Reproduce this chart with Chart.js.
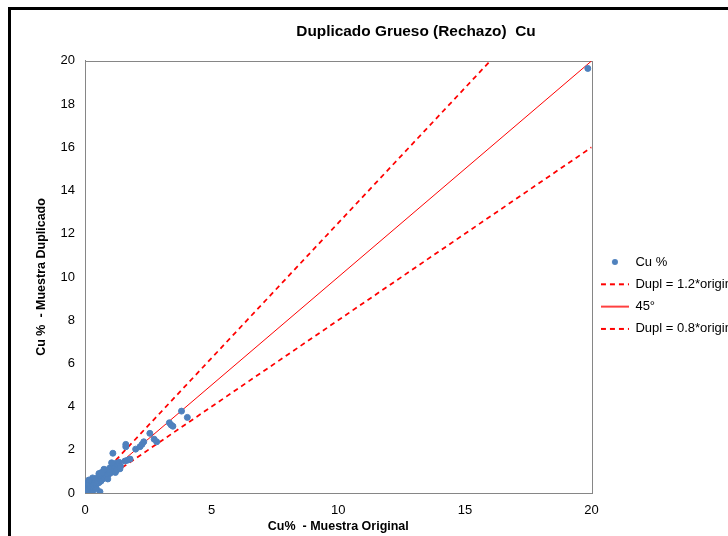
<!DOCTYPE html>
<html>
<head>
<meta charset="utf-8">
<script src="https://cdn.jsdelivr.net/npm/chart.js@4"></script>
<style>
  body { margin: 0; overflow: hidden; background: #fff; }
  #frame { position: absolute; left: 8px; top: 7px; border-left: 3px solid #000; border-top: 3px solid #000; width: 810px; height: 545px; }
</style>
</head>
<body>
<div id="frame"><canvas id="myChart" width="810" height="545"></canvas></div>
<script>
// Cu % muestra original (x) y duplicado (y)
const cuOriginal = [0.02, 0.03, 0.05, 0.06, 0.08, 0.10, 0.10, 0.12, 0.14, 0.15, 0.17, 0.18, 0.20, 0.22, 0.24,
  0.25, 0.27, 0.30, 0.30, 0.32, 0.35, 0.37, 0.40, 0.40, 0.43, 0.45, 0.47, 0.50, 0.50, 0.53,
  0.55, 0.57, 0.60, 0.62, 0.63, 0.65, 0.68, 0.70, 0.72, 0.75, 0.77, 0.80, 0.82, 0.85, 0.87,
  0.90, 0.92, 0.95, 0.97, 1.00, 1.02, 1.05, 1.08, 1.10, 1.13, 1.16, 1.20, 1.23, 1.27, 1.30,
  1.35, 1.40, 0.59, 0.30, 0.00, 0.08, 0.30, 0.55, 0.75, 0.90, 1.20, 0.45, 0.15, 1.05, 0.65,
  1.25, 1.38,
  1.10, 1.58, 1.68, 1.78, 2.00, 2.17, 2.25, 2.32, 1.61, 1.61, 2.56, 2.73, 2.83,
  3.33, 3.40, 3.47, 3.81, 4.04, 19.85];
const cuDuplicado = [0.02, 0.15, 0.05, 0.30, 0.10, 0.22, 0.00, 0.40, 0.12, 0.28, 0.50, 0.05, 0.20, 0.35, 0.15,
  0.45, 0.30, 0.40, 0.20, 0.55, 0.35, 0.50, 0.42, 0.62, 0.55, 0.40, 0.65, 0.50, 0.72, 0.60,
  0.48, 0.75, 0.62, 0.80, 0.55, 0.70, 0.85, 0.65, 0.78, 0.92, 0.70, 0.85, 1.00, 0.78, 0.92,
  1.05, 0.85, 1.00, 1.15, 0.92, 1.08, 1.22, 1.00, 1.15, 1.30, 1.08, 1.22, 1.38, 1.15, 1.30,
  1.42, 1.25, 0.06, 0.02, 0.10, 0.45, 0.70, 0.90, 1.10, 0.65, 0.95, 0.20, 0.60, 1.40, 0.95,
  1.06, 1.12,
  1.84, 1.48, 1.52, 1.57, 2.03, 2.14, 2.25, 2.37, 2.14, 2.25, 2.76, 2.49, 2.37,
  3.25, 3.15, 3.09, 3.79, 3.50, 19.65];

// lineas de referencia
const lineaX = [0, 20];
const linea12X = [0, 16];
const linea12Y = [0, 20];
const linea45Y = [0, 20];
const linea08Y = [0, 16];

const ctx = document.getElementById('myChart');

// simbolos de la leyenda
const makeSymbol = (w, h, draw) => {
  const c = document.createElement('canvas');
  c.width = w;
  c.height = h;
  draw(c.getContext('2d'));
  return c;
};
const dot = makeSymbol(8, 8, (g) => {
  g.fillStyle = '#4F81BD';
  g.beginPath();
  g.arc(4, 4, 3, 0, Math.PI * 2);
  g.fill();
});
const dashed = makeSymbol(28, 4, (g) => {
  g.strokeStyle = '#FF0000';
  g.lineWidth = 2;
  g.setLineDash([5, 4]);
  g.beginPath();
  g.moveTo(0, 2);
  g.lineTo(28, 2);
  g.stroke();
});
const solid = makeSymbol(28, 4, (g) => {
  g.strokeStyle = '#FF0000';
  g.lineWidth = 1.5;
  g.beginPath();
  g.moveTo(0, 2);
  g.lineTo(28, 2);
  g.stroke();
});
const legendSymbols = [dot, dashed, solid, dashed];

const axisColor = '#868686';
const font = 'Liberation Sans, Arial, sans-serif';

// titulo centrado en todo el lienzo (como en Excel) y marco del area de trazado
const excelLook = {
  id: 'excelLook',
  afterLayout(chart) {
    const t = chart.titleBlock;
    t.left = 0;
    t.right = chart.width;
    t.width = chart.width;
  },
  beforeDatasetsDraw(chart) {
    const {ctx, chartArea} = chart;
    ctx.save();
    ctx.strokeStyle = axisColor;
    ctx.lineWidth = 1;
    ctx.strokeRect(Math.round(chartArea.left) + 0.5, Math.round(chartArea.top) + 0.5,
      Math.round(chartArea.width), Math.round(chartArea.height));
    ctx.restore();
  }
};

new Chart(ctx, {
  type: 'scatter',
  data: {
    datasets: [{
      label: 'Cu %',
      data: cuOriginal.map((x, i) => ({x: x, y: cuDuplicado[i]})),
      backgroundColor: '#4F81BD',
      borderColor: '#4F81BD',
      pointRadius: 3,
      pointHoverRadius: 3
    },
    {
      label: 'Dupl = 1.2*original',
      data: linea12X.map((x, i) => ({x: x, y: linea12Y[i]})),
      showLine: true,
      borderColor: '#FF0000',
      borderWidth: 1.75,
      borderDash: [5, 4],
      pointRadius: 0
    },
    {
      label: '45°',
      data: lineaX.map((x, i) => ({x: x, y: linea45Y[i]})),
      showLine: true,
      borderColor: '#FF0000',
      borderWidth: 1,
      pointRadius: 0
    },
    {
      label: 'Dupl = 0.8*original',
      data: lineaX.map((x, i) => ({x: x, y: linea08Y[i]})),
      showLine: true,
      borderColor: '#FF0000',
      borderWidth: 1.75,
      borderDash: [5, 4],
      pointRadius: 0
    }]
  },
  plugins: [excelLook],
  options: {
    responsive: false,
    animation: false,
    layout: { padding: { left: 10, right: 69, top: 0, bottom: 0 } },
    plugins: {
      title: {
        display: true,
        text: 'Duplicado Grueso (Rechazo)  Cu',
        color: '#000',
        font: { family: font, size: 15.4, weight: 'bold' },
        padding: { top: 12.8, bottom: 19.6 }
      },
      legend: {
        position: 'right',
        labels: {
          usePointStyle: true,
          pointStyleWidth: 28,
          padding: 9.3,
          color: '#000',
          font: { family: font, size: 13 },
          generateLabels: (chart) => {
            const items = Chart.defaults.plugins.legend.labels.generateLabels(chart);
            items.forEach((item, i) => { item.pointStyle = legendSymbols[i]; });
            return items;
          }
        },
        title: { display: true, text: '', font: { size: 10 }, padding: { top: 13.9, bottom: 0 } }
      },
      tooltip: { enabled: false }
    },
    scales: {
      x: {
        type: 'linear',
        min: 0,
        max: 20,
        ticks: { stepSize: 5, color: '#000', padding: 9.5, font: { family: font, size: 13 } },
        grid: { display: false, drawTicks: false },
        border: { color: axisColor, width: 1 },
        title: {
          display: true,
          text: 'Cu%  - Muestra Original',
          color: '#000',
          font: { family: font, size: 12.5, weight: 'bold' },
          padding: { top: 0, bottom: 20.8 }
        },
        afterFit: (s) => { s.height = 62; }
      },
      y: {
        type: 'linear',
        min: 0,
        max: 20,
        ticks: { stepSize: 2, color: '#000', padding: 10, font: { family: font, size: 13 } },
        grid: { display: false, drawTicks: false },
        border: { color: axisColor, width: 1 },
        title: {
          display: true,
          text: 'Cu %  - Muestra Duplicado',
          color: '#000',
          font: { family: font, size: 12.5, weight: 'bold' },
          padding: { top: 13.5, bottom: 0 }
        },
        afterFit: (s) => { s.width = 64; }
      }
    }
  }
});
</script>
</body>
</html>
